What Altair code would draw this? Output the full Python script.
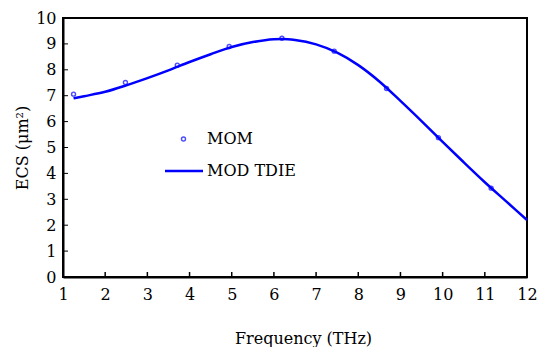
import altair as alt
import pandas as pd

# MOM samples
mom_x = [1.25, 2.48, 3.71, 4.94, 6.19, 7.43, 8.67, 9.90, 11.15]
mom_y = [7.06, 7.51, 8.18, 8.90, 9.22, 8.72, 7.28, 5.38, 3.43]

# MOD TDIE curve
mod_x = [1.25, 1.5, 2.0, 2.5, 3.0, 3.5, 4.0, 4.5, 5.0, 5.5, 6.0, 6.2, 6.5, 7.0, 7.5, 8.0, 8.5, 9.0, 9.5, 10.0, 10.5, 11.0, 11.5, 12.0]
mod_y = [6.90, 6.98, 7.15, 7.40, 7.68, 7.98, 8.30, 8.60, 8.88, 9.07, 9.18, 9.19, 9.15, 8.98, 8.66, 8.18, 7.55, 6.80, 6.02, 5.22, 4.43, 3.66, 2.93, 2.20]

x_ticks = [1, 2, 3, 4, 5, 6, 7, 8, 9, 10, 11, 12]
y_ticks = [0, 1, 2, 3, 4, 5, 6, 7, 8, 9, 10]

W, H = 464, 259
FONT = "DejaVu Serif"
FS = 16
BLUE = "#0000ff"

mom = pd.DataFrame({"x": mom_x, "y": mom_y})
mod = pd.DataFrame({"x": mod_x, "y": mod_y})

xs = alt.Scale(domain=[1, 12], nice=False, zero=False)
ys = alt.Scale(domain=[0, 10], nice=False)

xax = alt.Axis(values=x_ticks, tickSize=0, labelPadding=9, labelOverlap=False, labelBound=False,
               title="Frequency (THz)", titleX=240, titleAlign="center", titleY=61,
               titleBaseline="middle", labelFlush=False)
yax = alt.Axis(values=y_ticks, tickSize=0, labelPadding=7, labelOverlap=False, labelBound=False,
               title="ECS (μm²)", titleX=-41, titleAngle=-90,
               titleBaseline="middle", titleAlign="center", labelFlush=False)

X = lambda f: alt.X(f, scale=xs, axis=xax)
Y = lambda f: alt.Y(f, scale=ys, axis=yax)

line = alt.Chart(mod).mark_line(color=BLUE, strokeWidth=2.5, interpolate="monotone").encode(
    x=X("x:Q"), y=Y("y:Q"),
)
pts = alt.Chart(mom).mark_point(shape="circle", size=16, color=BLUE, filled=False, strokeWidth=1.4).encode(
    x=X("x:Q"), y=Y("y:Q")
)

xt = alt.Chart(pd.DataFrame({"x": x_ticks[1:-1]})).mark_rule(color="black", strokeWidth=1.5).encode(
    x=X("x:Q"), y=alt.value(H), y2=alt.value(H - 5)
)
yt = alt.Chart(pd.DataFrame({"y": y_ticks[1:-1]})).mark_rule(color="black", strokeWidth=1).encode(
    y=Y("y:Q"), x=alt.value(0), x2=alt.value(5)
)

# legend
leg_pt = alt.Chart(pd.DataFrame({"a": [0]})).mark_point(shape="circle", size=16, color=BLUE, filled=False, strokeWidth=1.4).encode(
    x=alt.value(120.5), y=alt.value(121)
)
leg_line = alt.Chart(pd.DataFrame({"a": [0]})).mark_rule(color=BLUE, strokeWidth=2.5).encode(
    x=alt.value(102), x2=alt.value(140), y=alt.value(153)
)
leg_txt = alt.Chart(pd.DataFrame({"label": ["MOM", "MOD TDIE"], "py": [121, 153]})).mark_text(
    align="left", baseline="middle", font=FONT, fontSize=FS, color="black"
).encode(x=alt.value(144), y=alt.Y("py:Q", scale=None, axis=None), text="label:N")

chart = alt.layer(line, pts, xt, yt, leg_pt, leg_line, leg_txt).properties(
    width=W, height=H,
    autosize=alt.AutoSizeParams(type="none"),
    padding={"left": 55, "top": 10, "right": 15, "bottom": 70},
    background="white",
).configure(font=FONT).configure_view(stroke="black", strokeWidth=2).configure_axis(
    labelFont=FONT, labelFontSize=FS, labelColor="black",
    titleFont=FONT, titleFontSize=FS, titleFontWeight="normal", titleColor="black",
    domainColor="black", domainWidth=2, grid=False,
).configure_text(font=FONT)

chart.save("out.html", embed_options={"renderer": "svg", "actions": False})
